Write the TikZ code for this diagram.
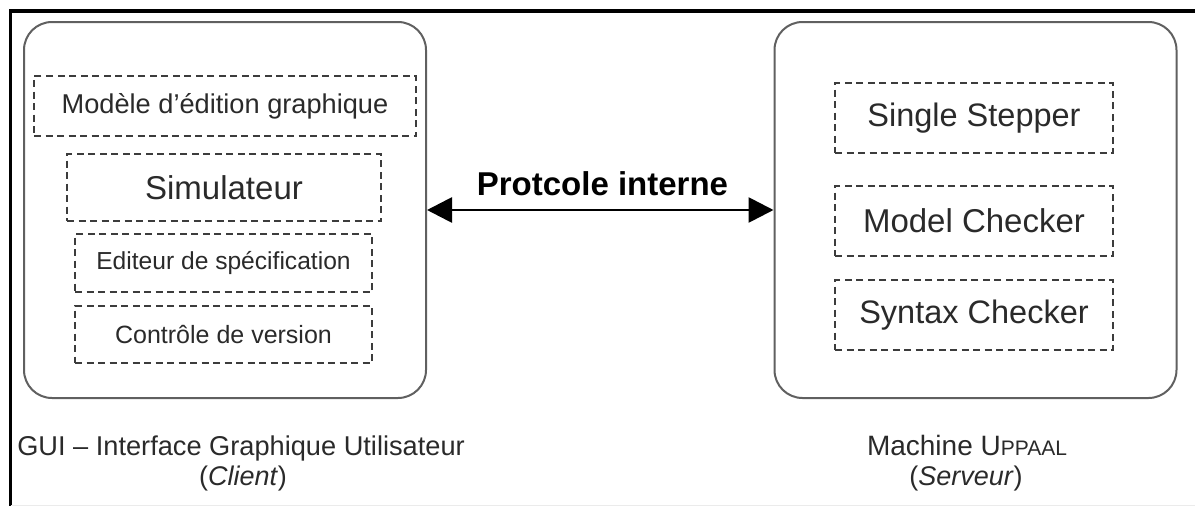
\documentclass[tikz,border=0pt]{standalone}
\usepackage{fontspec}
\setmainfont{Liberation Sans}
\usetikzlibrary{arrows.meta}
\definecolor{txt}{HTML}{2A2A2A}
\definecolor{boxline}{HTML}{606060}
\definecolor{dashline}{HTML}{3C3C3C}
\begin{document}
\begin{tikzpicture}[x=1pt,y=-1pt,
  frameline/.style={line width=3.5pt,black},
  bigbox/.style={draw=boxline,line width=2pt,rounded corners=28pt,minimum width=402pt,minimum height=376pt,inner sep=0pt},
  dbox/.style={draw=dashline,line width=1.5pt,dash pattern=on 7pt off 4.5pt,text=txt,inner sep=0pt},
  conn/.style={line width=2.8pt,black,{Triangle[length=25pt,width=25pt]}-{Triangle[length=25pt,width=25pt]}},
  lbl/.style={anchor=base,inner sep=0pt,text=txt}
]
\useasboundingbox (0,0) rectangle (1195,506);
% outer frame (top and left edges)
\coordinate (fA) at (10.5,506);
\coordinate (fB) at (10.5,11);
\coordinate (fC) at (1195,11);
\draw[frameline] (fA) -- (fB) -- (fC);
\coordinate (bA) at (10.5,505);
\coordinate (bB) at (1195,505);
\draw[black!8,line width=1pt] (bA) -- (bB);

% big boxes
\node[bigbox] (gui) at (225,210) {};
\node[bigbox] (srv) at (975.5,210) {};

% client components
\node[dbox,minimum width=382pt,minimum height=60pt] (m1) at (225,106)
  {\fontsize{27.2}{31}\selectfont Modèle d’édition graphique};
\node[dbox,minimum width=314pt,minimum height=67pt] (m2) at (224,187.5)
  {\fontsize{33}{38}\selectfont Simulateur};
\node[dbox,minimum width=297pt,minimum height=58pt] (m3) at (223.5,263)
  {\fontsize{24.6}{28}\selectfont Editeur de spécification};
\node[dbox,minimum width=297pt,minimum height=57pt] (m4) at (223.5,334.5)
  {\fontsize{25}{28}\selectfont Contrôle de version};

% server components
\node[dbox,minimum width=278pt,minimum height=70pt] (r1) at (974,118)
  {\fontsize{32.5}{37}\selectfont Single Stepper};
\node[dbox,minimum width=278pt,minimum height=70pt] (r2) at (974,221)
  {\fontsize{33}{37}\selectfont Model Checker};
\node[dbox,minimum width=278pt,minimum height=70pt] (r3) at (974,315)
  {\fontsize{32.5}{37}\selectfont Syntax Checker};

% connector
\draw[conn] (gui) -- (srv);
\node[lbl,text=black,font=\bfseries\fontsize{33}{37}\selectfont] (proto) at (602.5,195) {Protcole interne};

% captions
\node[lbl,font=\fontsize{27.2}{32}\selectfont] (guicap) at (241,455) {GUI – Interface Graphique Utilisateur};
\node[lbl,font=\fontsize{27}{32}\selectfont] (clicap) at (243,485) {(\textit{Client})};
\node[lbl,font=\fontsize{28}{32}\selectfont] (srvcap) at (967,455) {Machine U{\fontsize{21}{24}\selectfont PPAAL}};
\node[lbl,font=\fontsize{27}{32}\selectfont] (sercap) at (966,485) {(\textit{Serveur})};
\end{tikzpicture}
\end{document}
